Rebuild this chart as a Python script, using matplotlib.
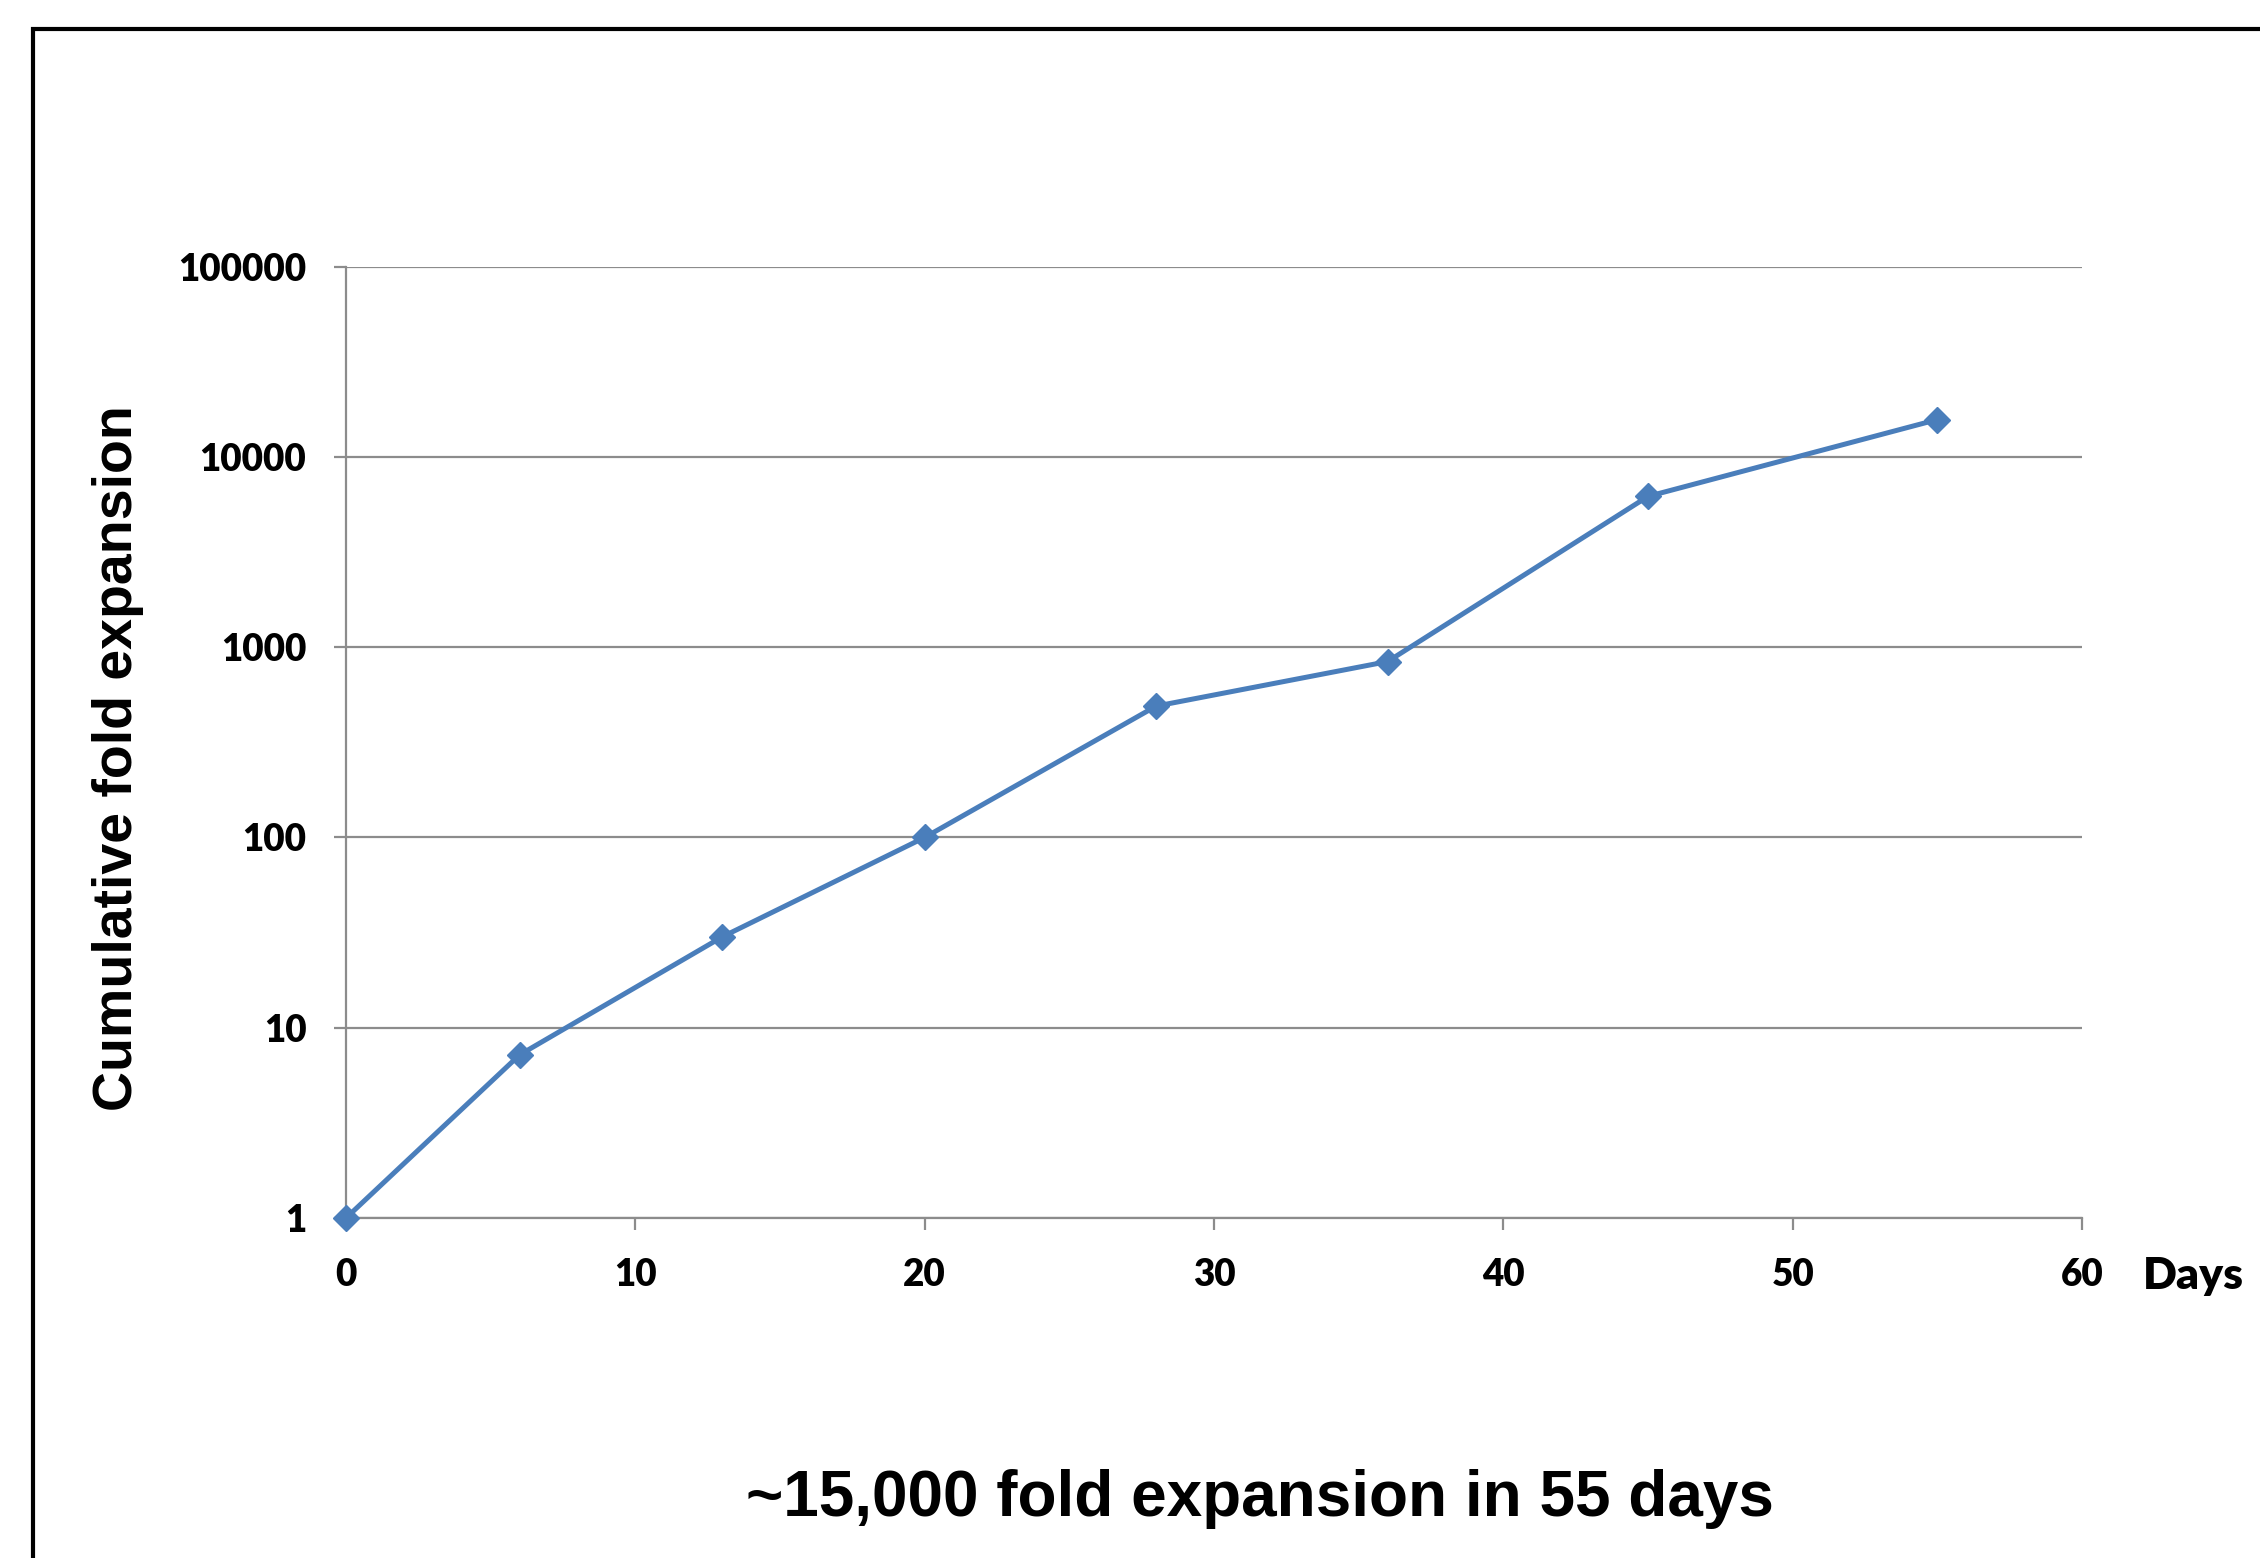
import matplotlib
matplotlib.use('Agg')
import matplotlib.pyplot as plt
from matplotlib.patches import Rectangle

# values
days = [0, 6, 13, 20, 28, 36, 45, 55]
fold = [1, 7.2, 30, 100, 490, 840, 6200, 15700]
x_ticks = [0, 10, 20, 30, 40, 50, 60]
y_ticks = [1, 10, 100, 1000, 10000, 100000]
y_tick_labels = ['1', '10', '100', '1000', '10000', '100000']

W, H = 2260, 1558
fig = plt.figure(figsize=(W / 100, H / 100), dpi=100)

# black frame that runs off the right and bottom edges
fig.patches.append(Rectangle((33 / W, -0.05), 1.2, 1 - 29 / H + 0.05,
                             transform=fig.transFigure, fill=False,
                             edgecolor='black', linewidth=3.0))

ax = fig.add_axes([346 / W, 1 - 1218 / H, (2082 - 346) / W, (1218 - 266.6) / H])
grey = '#8c8c8c'

ax.set_yscale('log')
ax.set_xlim(0, 60)
ax.set_ylim(1, 100000)
ax.set_xticks(x_ticks)
ax.set_yticks(y_ticks)
ax.set_yticklabels(y_tick_labels)
ax.minorticks_off()

ax.yaxis.grid(True, color=grey, linewidth=1.6)
ax.set_axisbelow(True)
for side in ['top', 'right']:
    ax.spines[side].set_visible(False)
for side in ['left', 'bottom']:
    ax.spines[side].set_color(grey)
    ax.spines[side].set_linewidth(1.6)

ax.tick_params(axis='both', direction='out', length=8.5, width=1.6, color=grey,
               pad=20, labelsize=26.5)
for lab in ax.get_xticklabels() + ax.get_yticklabels():
    lab.set_fontfamily('Lato')
    lab.set_fontweight('heavy')

ax.plot(days, fold, color='#4a7ebb', linewidth=3.6, marker='D', markersize=13,
        markerfacecolor='#4a7ebb', markeredgecolor='#4a7ebb', clip_on=False, zorder=3)

fig.text(118 / W, 1 - 758 / H, 'Cumulative fold expansion', rotation=90,
         ha='center', va='center', fontsize=40, fontweight='bold',
         family='Liberation Sans')
fig.text(2143 / W, 1 - 1276 / H, 'Days', ha='left', va='center',
         fontsize=32, fontweight='heavy', family='Lato')
fig.text(1260 / W, 1 - 1499 / H, '~15,000 fold expansion in 55 days',
         ha='center', va='center', fontsize=46, fontweight='bold',
         family='Liberation Sans')

fig.savefig('out.png', dpi=100, facecolor='white')
